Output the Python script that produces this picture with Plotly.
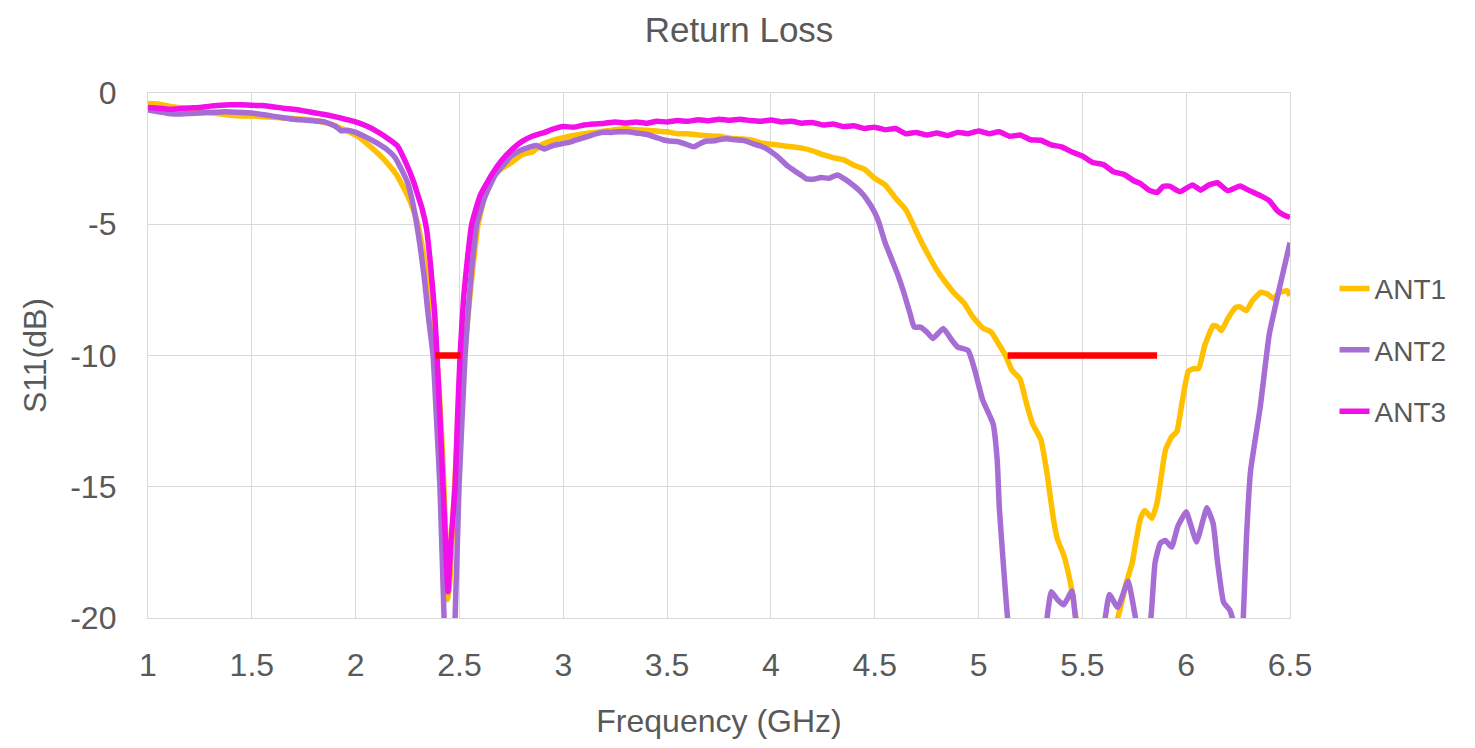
import plotly.graph_objects as go

# ---------------- data ----------------
freq_ant1 = [1.00, 1.05, 1.10, 1.15, 1.20, 1.25, 1.30, 1.35, 1.40, 1.45, 1.50, 1.55, 1.60, 1.65, 1.70,
             1.75, 1.80, 1.85, 1.90, 1.95, 2.00, 2.05, 2.10, 2.15, 2.20, 2.25, 2.28, 2.30, 2.33, 2.36,
             2.38, 2.40, 2.42, 2.435, 2.445, 2.455, 2.47, 2.49, 2.51, 2.53, 2.56, 2.59, 2.62, 2.66, 2.70,
             2.75, 2.80, 2.85, 2.90, 2.95, 3.00, 3.05, 3.10, 3.15, 3.20, 3.25, 3.30, 3.35, 3.40, 3.45,
             3.50, 3.55, 3.60, 3.65, 3.70, 3.75, 3.80, 3.85, 3.90, 3.95, 4.00, 4.05, 4.10, 4.15, 4.20,
             4.25, 4.30, 4.35, 4.40, 4.45, 4.50, 4.55, 4.60, 4.65, 4.68, 4.72, 4.76, 4.80, 4.84, 4.88,
             4.93, 4.97, 5.02, 5.06, 5.10, 5.13, 5.16, 5.20, 5.23, 5.26, 5.30, 5.33, 5.36, 5.38, 5.41,
             5.43, 5.45, 5.47, 5.52, 5.60, 5.67, 5.69, 5.71, 5.74, 5.76, 5.78, 5.80, 5.835, 5.86, 5.88,
             5.90, 5.93, 5.955, 5.98, 6.01, 6.035, 6.06, 6.09, 6.13, 6.15, 6.17, 6.20, 6.24, 6.26, 6.29,
             6.32, 6.36, 6.39, 6.42, 6.45, 6.485, 6.50]
s11_ant1 = [-0.40, -0.42, -0.50, -0.55, -0.62, -0.70, -0.75, -0.80, -0.85, -0.88, -0.88, -0.90, -0.92, -0.95, -0.97,
            -1.00, -1.05, -1.12, -1.25, -1.42, -1.60, -1.90, -2.25, -2.65, -3.15, -3.90, -4.50, -5.00, -6.30, -8.00,
            -9.30, -11.0, -14.0, -17.0, -19.3, -18.5, -16.0, -13.0, -11.0, -9.40, -7.00, -5.00, -4.00, -3.20, -2.90,
            -2.65, -2.35, -2.25, -1.95, -1.80, -1.70, -1.62, -1.55, -1.50, -1.45, -1.40, -1.36, -1.40, -1.42, -1.45,
            -1.48, -1.55, -1.55, -1.60, -1.63, -1.65, -1.72, -1.75, -1.78, -1.90, -1.95, -2.00, -2.05, -2.10, -2.20,
            -2.35, -2.46, -2.55, -2.75, -2.90, -3.25, -3.50, -4.00, -4.45, -4.93, -5.60, -6.20, -6.75, -7.20, -7.60,
            -8.00, -8.50, -8.95, -9.10, -9.60, -10.0, -10.55, -10.9, -11.8, -12.6, -13.2, -14.5, -16.2, -17.0, -17.6,
            -18.2, -18.97, -20.0, -21.0, -21.5, -20.0, -19.4, -18.7, -17.9, -17.0, -16.2, -15.9, -16.2, -15.6, -14.6,
            -13.6, -13.1, -12.9, -11.8, -10.6, -10.5, -10.5, -9.60, -8.86, -8.90, -9.05, -8.60, -8.16, -8.15, -8.29,
            -7.90, -7.59, -7.65, -7.83, -7.60, -7.53, -7.72]

freq_ant2 = [1.00, 1.05, 1.10, 1.15, 1.20, 1.25, 1.30, 1.35, 1.40, 1.45, 1.50, 1.55, 1.60, 1.65, 1.70,
             1.75, 1.80, 1.85, 1.90, 1.93, 1.96, 2.00, 2.05, 2.10, 2.15, 2.19, 2.22, 2.25, 2.27, 2.29,
             2.31, 2.33, 2.35, 2.373, 2.39, 2.406, 2.426, 2.45, 2.479, 2.498, 2.527, 2.55, 2.583, 2.62, 2.67,
             2.71, 2.75, 2.79, 2.83, 2.87, 2.91, 2.95, 3.00, 3.04, 3.08, 3.12, 3.16, 3.19, 3.23, 3.27,
             3.31, 3.35, 3.40, 3.45, 3.48, 3.51, 3.55, 3.59, 3.63, 3.66, 3.69, 3.73, 3.76, 3.79, 3.83,
             3.86, 3.88, 3.92, 3.95, 3.98, 4.02, 4.05, 4.08, 4.12, 4.15, 4.17, 4.21, 4.24, 4.28, 4.32,
             4.36, 4.40, 4.43, 4.46, 4.50, 4.52, 4.55, 4.58, 4.61, 4.64, 4.67, 4.69, 4.72, 4.75, 4.78,
             4.83, 4.87, 4.90, 4.95, 4.98, 5.02, 5.07, 5.09, 5.10, 5.12, 5.14, 5.18, 5.25, 5.31, 5.33,
             5.35, 5.38, 5.41, 5.45, 5.47, 5.53, 5.58, 5.61, 5.63, 5.67, 5.72, 5.76, 5.79, 5.83, 5.85,
             5.875, 5.90, 5.93, 5.96, 6.00, 6.02, 6.05, 6.08, 6.10, 6.13, 6.15, 6.18, 6.21, 6.24, 6.26,
             6.275, 6.29, 6.31, 6.356, 6.40, 6.45, 6.50]
s11_ant2 = [-0.65, -0.72, -0.78, -0.80, -0.78, -0.76, -0.74, -0.72, -0.72, -0.74, -0.76, -0.82, -0.88, -0.94, -1.00,
            -1.03, -1.06, -1.10, -1.25, -1.44, -1.42, -1.50, -1.68, -1.89, -2.15, -2.46, -2.90, -3.41, -4.00, -4.80,
            -5.80, -7.00, -8.50, -10.0, -12.5, -15.0, -20.0, -25.0, -20.0, -15.0, -10.0, -7.50, -5.00, -4.00, -3.15,
            -2.75, -2.40, -2.20, -2.08, -2.00, -2.13, -2.00, -1.92, -1.85, -1.75, -1.65, -1.55, -1.50, -1.50, -1.48,
            -1.48, -1.52, -1.57, -1.70, -1.78, -1.83, -1.85, -1.95, -2.05, -1.92, -1.83, -1.82, -1.76, -1.74, -1.78,
            -1.80, -1.83, -1.95, -2.02, -2.13, -2.35, -2.55, -2.78, -3.00, -3.15, -3.27, -3.28, -3.22, -3.25, -3.12,
            -3.30, -3.54, -3.75, -4.03, -4.55, -4.93, -5.70, -6.30, -6.90, -7.60, -8.40, -8.92, -8.92, -9.10, -9.35,
            -8.97, -9.40, -9.68, -9.81, -10.5, -11.7, -12.6, -14.0, -15.8, -18.0, -20.0, -22.0, -23.0, -21.5, -20.0,
            -19.0, -19.3, -19.5, -18.97, -20.2, -22.0, -21.5, -20.0, -19.1, -19.6, -18.6, -20.2, -22.0, -20.0, -17.9,
            -17.15, -17.05, -17.3, -16.5, -15.95, -16.4, -17.1, -16.3, -15.8, -16.4, -17.8, -19.4, -19.7, -20.5, -22.0,
            -20.0, -17.0, -14.4, -12.0, -9.20, -7.40, -5.70]

freq_ant3 = [1.00, 1.05, 1.10, 1.15, 1.20, 1.25, 1.30, 1.35, 1.40, 1.45, 1.50, 1.55, 1.60, 1.65, 1.70,
             1.75, 1.80, 1.85, 1.90, 1.95, 2.00, 2.05, 2.10, 2.15, 2.20, 2.25, 2.28, 2.30, 2.32, 2.342,
             2.36, 2.38, 2.392, 2.41, 2.421, 2.435, 2.445, 2.46, 2.479, 2.49, 2.503, 2.52, 2.54, 2.559, 2.60,
             2.656, 2.70, 2.76, 2.80, 2.85, 2.91, 2.95, 3.00, 3.05, 3.10, 3.15, 3.20, 3.25, 3.30, 3.35,
             3.40, 3.45, 3.50, 3.55, 3.60, 3.65, 3.70, 3.75, 3.80, 3.85, 3.90, 3.95, 4.00, 4.05, 4.10,
             4.15, 4.20, 4.25, 4.30, 4.35, 4.40, 4.45, 4.50, 4.55, 4.60, 4.65, 4.70, 4.75, 4.80, 4.85,
             4.90, 4.95, 5.00, 5.05, 5.10, 5.15, 5.20, 5.25, 5.30, 5.35, 5.40, 5.45, 5.50, 5.55, 5.60,
             5.65, 5.70, 5.75, 5.78, 5.82, 5.86, 5.89, 5.92, 5.97, 6.03, 6.07, 6.11, 6.15, 6.20, 6.26,
             6.30, 6.36, 6.40, 6.44, 6.47, 6.50]
s11_ant3 = [-0.55, -0.58, -0.62, -0.60, -0.57, -0.55, -0.50, -0.47, -0.45, -0.45, -0.47, -0.48, -0.52, -0.58, -0.62,
            -0.68, -0.75, -0.82, -0.90, -1.00, -1.10, -1.25, -1.45, -1.70, -2.00, -2.80, -3.40, -3.90, -4.40, -5.20,
            -6.50, -8.30, -10.0, -13.0, -15.0, -17.5, -19.0, -17.0, -15.0, -12.5, -10.0, -7.80, -6.20, -5.00, -3.90,
            -3.10, -2.60, -2.10, -1.85, -1.65, -1.50, -1.38, -1.28, -1.30, -1.22, -1.18, -1.15, -1.10, -1.14, -1.10,
            -1.15, -1.08, -1.10, -1.05, -1.08, -1.02, -1.06, -1.00, -1.04, -1.00, -1.05, -1.08, -1.03, -1.10, -1.08,
            -1.15, -1.12, -1.22, -1.18, -1.28, -1.25, -1.35, -1.30, -1.40, -1.35, -1.55, -1.50, -1.60, -1.52, -1.62,
            -1.50, -1.55, -1.45, -1.55, -1.48, -1.65, -1.60, -1.78, -1.80, -1.98, -2.05, -2.25, -2.40, -2.65, -2.72,
            -3.00, -3.10, -3.35, -3.45, -3.70, -3.79, -3.55, -3.55, -3.76, -3.50, -3.70, -3.50, -3.42, -3.72, -3.54,
            -3.70, -3.92, -4.10, -4.49, -4.65, -4.74]

band1_freq = [2.385, 2.505]
band2_freq = [5.14, 5.86]
band_level = [-10, -10]

series_names = ["ANT1", "ANT2", "ANT3"]
series_colors = ["#FFC000", "#A66DD4", "#F20FE8"]

x_tick_vals = [1, 1.5, 2, 2.5, 3, 3.5, 4, 4.5, 5, 5.5, 6, 6.5]
x_tick_text = ["1", "1.5", "2", "2.5", "3", "3.5", "4", "4.5", "5", "5.5", "6", "6.5"]
y_tick_vals = [0, -5, -10, -15, -20]
y_tick_text = ["0", "-5", "-10", "-15", "-20"]

# ---------------- figure ----------------
fig = go.Figure()
for name, color, fx, fy in zip(series_names, series_colors,
                               [freq_ant1, freq_ant2, freq_ant3],
                               [s11_ant1, s11_ant2, s11_ant3]):
    fig.add_trace(go.Scatter(x=fx, y=fy, mode="lines", name=name, legendgroup=name,
                             line=dict(color=color, width=5.5, shape="spline", smoothing=0.4)))

for bx in [band1_freq, band2_freq]:
    fig.add_trace(go.Scatter(x=bx, y=band_level, mode="lines", showlegend=False,
                             line=dict(color="#FF0000", width=6.5), hoverinfo="skip"))

grid = "#D9D9D9"
txt = "#595959"
fig.update_layout(
    width=1475, height=748,
    margin=dict(l=140, r=193, t=85, b=138),
    paper_bgcolor="white", plot_bgcolor="white",
    font=dict(family="Liberation Sans, Arial, sans-serif", color=txt, size=32),
    title=dict(text="Return Loss", xref="container", x=0.4956, xanchor="center",
               yref="container", y=1 - 22 / 748, yanchor="middle", font=dict(size=35, color=txt)),
    legend=dict(x=1.039, xanchor="left", y=0.51, yanchor="middle",
                font=dict(size=28, color=txt), tracegroupgap=22,
                bgcolor="rgba(0,0,0,0)"),
    showlegend=True,
)
fig.update_xaxes(range=[1, 6.5], tickvals=x_tick_vals, ticktext=x_tick_text,
                 showgrid=True, gridcolor=grid, gridwidth=1.3,
                 showline=True, linecolor=grid, linewidth=1.3, mirror=True,
                 zeroline=False, ticks="", ticklabelstandoff=18,
                 tickfont=dict(size=32, color=txt),
                 title=dict(text="Frequency (GHz)", standoff=28, font=dict(size=32, color=txt)))
fig.update_yaxes(range=[-20, 0], tickvals=y_tick_vals, ticktext=y_tick_text,
                 showgrid=True, gridcolor=grid, gridwidth=1.3,
                 showline=True, linecolor=grid, linewidth=1.3, mirror=True,
                 zeroline=False, ticks="", ticklabelstandoff=24,
                 tickfont=dict(size=32, color=txt),
                 title=dict(text="S11(dB)", standoff=14, font=dict(size=32, color=txt)))

fig.write_html("out.html")
